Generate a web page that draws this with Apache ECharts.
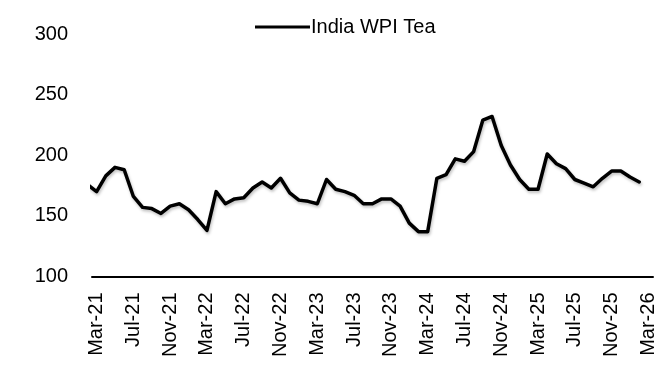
<!DOCTYPE html>
<html>
<head>
<meta charset="utf-8">
<script src="https://cdn.jsdelivr.net/npm/echarts@6/dist/echarts.min.js"></script>
<style>
html,body{margin:0;padding:0;background:#fff;}
#chart{width:660px;height:367px;}
</style>
</head>
<body>
<div id="chart"></div>
<script>
// Monthly categories (Feb-21 is only partly visible at the left edge, clipped by the plot area)
const months = [
  'Feb-21','Mar-21','Apr-21','May-21','Jun-21','Jul-21','Aug-21','Sep-21','Oct-21','Nov-21','Dec-21','Jan-22',
  'Feb-22','Mar-22','Apr-22','May-22','Jun-22','Jul-22','Aug-22','Sep-22','Oct-22','Nov-22','Dec-22','Jan-23',
  'Feb-23','Mar-23','Apr-23','May-23','Jun-23','Jul-23','Aug-23','Sep-23','Oct-23','Nov-23','Dec-23','Jan-24',
  'Feb-24','Mar-24','Apr-24','May-24','Jun-24','Jul-24','Aug-24','Sep-24','Oct-24','Nov-24','Dec-24','Jan-25',
  'Feb-25','Mar-25','Apr-25','May-25','Jun-25','Jul-25','Aug-25','Sep-25','Oct-25','Nov-25','Dec-25','Jan-26',
  'Feb-26','Mar-26'
];
const seriesName = 'India WPI Tea';
const wpiTea = [
  176,
  170,183,190,188,166,157,156,152,158,160,155,147,
  138,170,160,164,165,173,178,173,181,169,163,162,
  160,180,172,170,167,160,160,164,164,158,144,137,
  137,181,184,197,195,203,229,232,208,192,180,172,
  172,201,193,189,180,177,174,181,187,187,182,178,
  null
];
const yMin = 100, yMax = 300, yStep = 50;
const labelMonths = ['Mar','Jul','Nov'];

const chart = echarts.init(document.getElementById('chart'), null, {renderer:'canvas'});
const font = 'Liberation Sans';
chart.setOption({
  animation:false,
  backgroundColor:'#ffffff',
  grid:{left:92, right:7, top:34, bottom:90.5, containLabel:false},
  legend:{
    show:true,
    left:250, top:12,
    icon:'rect', itemWidth:55, itemHeight:3,
    itemGap:2,
    textStyle:{fontFamily:font, fontSize:20, color:'#000', padding:[0,0,0,-4]},
    data:[seriesName]
  },
  xAxis:{
    type:'category',
    data:months,
    min:1,
    boundaryGap:true,
    axisLine:{show:true, lineStyle:{color:'#000', width:2}},
    axisTick:{show:false},
    splitLine:{show:false},
    axisLabel:{
      rotate:90,
      margin:16,
      fontFamily:font, fontSize:20, color:'#000',
      interval:function(idx, val){ return labelMonths.indexOf(String(val).slice(0,3)) >= 0 && idx >= 1; }
    }
  },
  yAxis:{
    type:'value',
    min:yMin, max:yMax, interval:yStep,
    axisLine:{show:false},
    axisTick:{show:false},
    splitLine:{show:false},
    axisLabel:{margin:24, fontFamily:font, fontSize:20, color:'#000'}
  },
  series:[{
    name:seriesName,
    type:'line',
    data:wpiTea,
    clip:true,
    showSymbol:false,
    symbol:'none',
    smooth:false,
    connectNulls:false,
    lineStyle:{color:'#000', width:3.5, join:'round', cap:'round',
      shadowColor:'rgba(0,0,0,0.25)', shadowBlur:3, shadowOffsetX:1, shadowOffsetY:2},
    itemStyle:{color:'#000'}
  }]
});
</script>
</body>
</html>
